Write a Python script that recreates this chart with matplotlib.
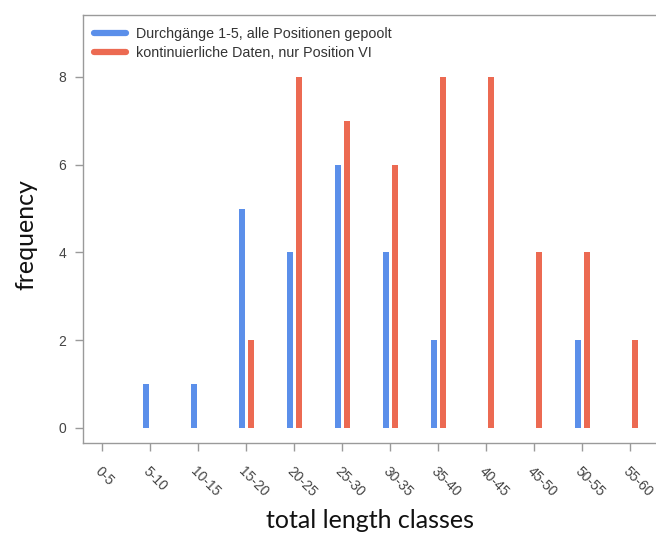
import matplotlib
matplotlib.use("Agg")
import matplotlib.pyplot as plt
import numpy as np
from matplotlib.lines import Line2D

classes = ["0-5", "5-10", "10-15", "15-20", "20-25", "25-30", "30-35",
           "35-40", "40-45", "45-50", "50-55", "55-60"]
pooled = [0, 1, 1, 5, 4, 6, 4, 2, 0, 0, 2, 0]
position_vi = [0, 0, 0, 2, 8, 7, 6, 8, 8, 4, 4, 2]
labels = ["Durchgänge 1-5, alle Positionen gepoolt",
          "kontinuierliche Daten, nur Position VI"]

blue = "#5b8fea"
red = "#ec6a52"
W, H = 656, 537
fig = plt.figure(figsize=(W / 100, H / 100), dpi=100)
fig.patch.set_facecolor("white")

# axes pixel box: left 83, right 700 (cropped), top 15, bottom 443
l, r, t, b = 83, 700, 15, 443
ax = fig.add_axes([l / W, (H - b) / H, (r - l) / W, (b - t) / H])

x = np.arange(len(classes))
bw = 0.125
ax.bar(x - 0.09, pooled, width=bw, color=blue, linewidth=0, label=labels[0])
ax.bar(x + 0.10, position_vi, width=bw, color=red, linewidth=0, label=labels[1])

ax.set_xlim(-0.396, (r - 102) / 48)
ax.set_ylim(-0.342, 9.41)

ax.set_yticks([0, 2, 4, 6, 8])
ax.set_xticks(x)
ax.set_xticklabels(classes, rotation=-45, ha="left", va="top",
                   rotation_mode="anchor",
                   fontsize=10, color="#444444", family="Liberation Sans")
for lab in ax.get_yticklabels():
    lab.set_fontsize(10)
    lab.set_color("#444444")
    lab.set_family("Liberation Sans")

for s in ax.spines.values():
    s.set_color("#9a9a9a")
    s.set_linewidth(1.0)
ax.tick_params(axis="both", colors="#9a9a9a", length=6, width=1.0,
               labelcolor="#444444")
ax.tick_params(axis="y", pad=6)
ax.tick_params(axis="x", pad=9)

handles = [Line2D([0], [0], color=blue, lw=4.5, solid_capstyle="round"),
           Line2D([0], [0], color=red, lw=4.5, solid_capstyle="round")]
leg = ax.legend(handles, labels, loc="upper left", frameon=False,
                prop={"family": "Liberation Sans", "size": 10.3},
                handlelength=2.2, handletextpad=0.7, labelspacing=0.3,
                bbox_to_anchor=(0.0, 0.998), borderaxespad=0.4)
for txt in leg.get_texts():
    txt.set_color("#333333")

fig.text(26 / W, 1 - 235 / H, "frequency", rotation=90, ha="center",
         va="center", fontsize=18, family="Lato", color="#111111")
fig.text(370 / W, 1 - 521 / H, "total length classes", ha="center",
         va="center", fontsize=18, family="Lato", color="#111111")

fig.savefig("out.png", dpi=100)
